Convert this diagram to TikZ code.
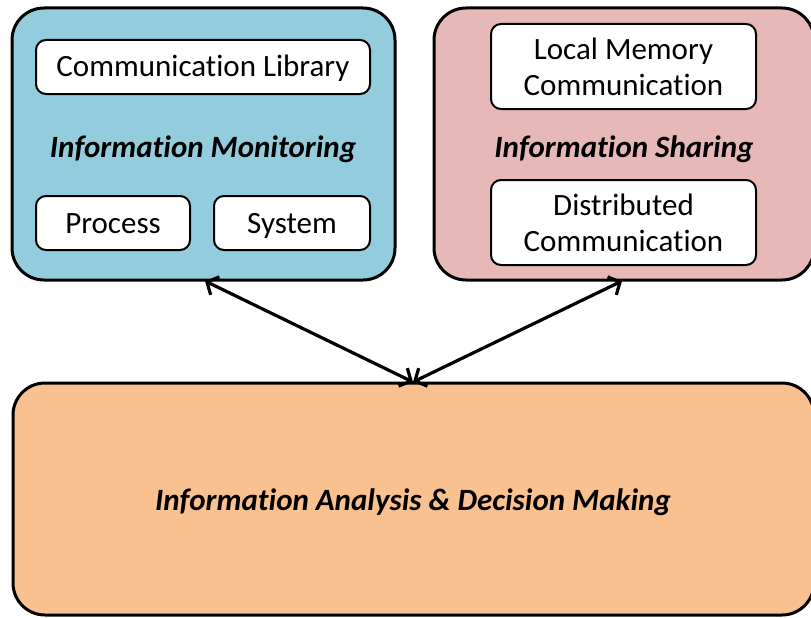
\documentclass[tikz,border=0pt]{standalone}
\usepackage{fontspec}
\setmainfont[Ligatures=NoCommon]{Carlito}
\usetikzlibrary{arrows.meta}

\definecolor{monitorblue}{HTML}{93CDDD}
\definecolor{sharepink}{HTML}{E6B9B8}
\definecolor{analysisorange}{HTML}{F9C090}

\tikzset{
  group/.style={draw=black, line width=3pt, rounded corners=32pt, inner sep=0pt},
  item/.style={draw=black, fill=white, line width=2pt, rounded corners=10pt,
    inner sep=0pt, align=center, font=\fontsize{31}{36}\selectfont},
  oneline/.style={text height=20pt, text depth=0pt},
  heading/.style={font=\fontsize{31}{36}\selectfont\bfseries\itshape, inner sep=0pt,
    text height=20pt, text depth=0pt},
  link/.style={line width=3.2pt, {Straight Barb[length=9pt,width=20pt]}-{Straight Barb[length=9pt,width=20pt]}}
}

\begin{document}
\begin{tikzpicture}[x=1pt, y=-1pt]
  \useasboundingbox (0,0) rectangle (811,618);

  % the three group boxes
  \node[group, fill=monitorblue, minimum width=383pt, minimum height=272pt] (monitor) at (203.5,144) {};
  \node[group, fill=sharepink, minimum width=380pt, minimum height=272pt] (sharing) at (624,144) {};
  \node[group, fill=analysisorange, minimum width=801pt, minimum height=232pt] (analysis) at (413.5,499) {};

  % monitoring contents
  \node[item, oneline, minimum width=334pt, minimum height=54pt] (lib) at (203,67) {Communication Library};
  \node[heading] (monlabel) at (203,147) {Information Monitoring};
  \node[item, oneline, minimum width=154pt, minimum height=54pt] (proc) at (113,223) {Process};
  \node[item, oneline, minimum width=156pt, minimum height=54pt] (sys) at (292,223) {System};

  % sharing contents
  \node[item, minimum width=265pt, minimum height=85pt] (local) at (623.5,66.5) {Local Memory\\Communication};
  \node[heading] (sharelabel) at (624,147) {Information Sharing};
  \node[item, minimum width=265pt, minimum height=85pt] (dist) at (623.5,222.5) {Distributed\\Communication};

  % analysis label
  \node[heading] (analabel) at (413,500) {Information Analysis \& Decision Making};

  % connectors
  \coordinate (meet) at (413,382);
  \coordinate (monfoot) at (205,281);
  \coordinate (sharefoot) at (622,281);
  \draw[link] (monfoot) -- (meet);
  \draw[link] (sharefoot) -- (meet);
\end{tikzpicture}
\end{document}
